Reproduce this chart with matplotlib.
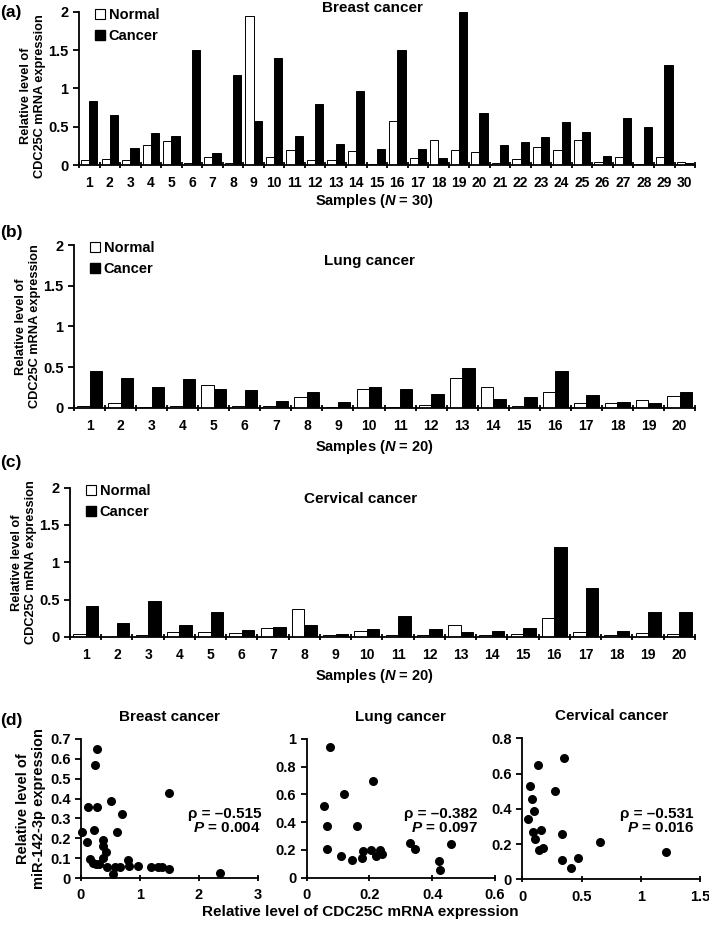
import matplotlib
matplotlib.use('Agg')
import matplotlib.pyplot as plt
from matplotlib.lines import Line2D
from matplotlib.ticker import MultipleLocator, FormatStrFormatter
import numpy as np

plt.rcParams['font.family'] = ['Liberation Sans', 'DejaVu Sans']
plt.rcParams['font.weight'] = 'bold'
plt.rcParams['axes.labelweight'] = 'bold'
plt.rcParams['axes.titleweight'] = 'bold'
plt.rcParams['mathtext.fontset'] = 'custom'
plt.rcParams['mathtext.it'] = 'Liberation Sans:italic:bold'
plt.rcParams['mathtext.rm'] = 'Liberation Sans:bold'

# (a) breast cancer, 30 samples
breast_normal = [0.065, 0.08, 0.06, 0.26, 0.31, 0.03, 0.11, 0.03, 1.94, 0.11,
                 0.20, 0.06, 0.06, 0.18, 0.01, 0.57, 0.09, 0.32, 0.20, 0.17,
                 0.02, 0.075, 0.24, 0.19, 0.33, 0.04, 0.10, 0.01, 0.11, 0.035]
breast_cancer = [0.83, 0.65, 0.22, 0.42, 0.38, 1.50, 0.16, 1.18, 0.58, 1.40,
                 0.38, 0.79, 0.27, 0.96, 0.21, 1.50, 0.21, 0.09, 2.00, 0.68,
                 0.26, 0.30, 0.37, 0.56, 0.43, 0.12, 0.61, 0.50, 1.31, 0.02]
# (b) lung cancer, 20 samples
lung_normal = [0.02, 0.06, 0.015, 0.02, 0.275, 0.02, 0.02, 0.13, 0.015, 0.23,
               0.01, 0.03, 0.36, 0.26, 0.02, 0.19, 0.055, 0.055, 0.09, 0.14]
lung_cancer = [0.45, 0.37, 0.25, 0.35, 0.23, 0.22, 0.08, 0.19, 0.07, 0.25,
               0.23, 0.17, 0.49, 0.11, 0.13, 0.45, 0.155, 0.067, 0.06, 0.19]
# (c) cervical cancer, 20 samples
cerv_normal = [0.035, 0.005, 0.025, 0.065, 0.06, 0.05, 0.115, 0.38, 0.03, 0.08,
               0.03, 0.02, 0.16, 0.03, 0.04, 0.25, 0.06, 0.025, 0.05, 0.04]
cerv_cancer = [0.42, 0.185, 0.48, 0.165, 0.34, 0.09, 0.14, 0.16, 0.045, 0.10,
               0.28, 0.10, 0.06, 0.08, 0.12, 1.21, 0.65, 0.08, 0.34, 0.33]

# (d) scatter: CDC25C (x) vs miR-142-3p (y)
breast_x = [0.28, 0.23, 1.50, 0.51, 0.12, 0.28, 0.69, 0.02, 0.22, 0.61,
            0.38, 0.10, 0.38, 0.42, 0.38, 0.15, 0.20, 0.26, 0.31, 0.44,
            0.55, 0.58, 0.66, 0.79, 0.82, 0.97, 1.19, 1.31, 1.38, 1.50, 2.35]
breast_y = [0.65, 0.57, 0.43, 0.39, 0.36, 0.36, 0.32, 0.23, 0.24, 0.23,
            0.19, 0.18, 0.16, 0.13, 0.10, 0.095, 0.075, 0.07, 0.07, 0.055,
            0.02, 0.055, 0.055, 0.09, 0.06, 0.06, 0.055, 0.055, 0.055, 0.045, 0.025]
lung_x = [0.073, 0.21, 0.12, 0.055, 0.064, 0.16, 0.066, 0.11, 0.145, 0.175,
          0.18, 0.205, 0.22, 0.235, 0.24, 0.33, 0.345, 0.42, 0.425, 0.46]
lung_y = [0.94, 0.70, 0.60, 0.52, 0.37, 0.37, 0.21, 0.16, 0.13, 0.14,
          0.19, 0.20, 0.16, 0.20, 0.17, 0.25, 0.21, 0.12, 0.055, 0.24]
cerv_x = [0.35, 0.13, 0.065, 0.28, 0.085, 0.10, 0.05, 0.09, 0.16, 0.335,
          0.105, 0.14, 0.175, 0.655, 1.21, 0.335, 0.47, 0.41]
cerv_y = [0.69, 0.65, 0.53, 0.50, 0.455, 0.385, 0.34, 0.27, 0.28, 0.255,
          0.23, 0.165, 0.18, 0.21, 0.155, 0.11, 0.12, 0.065]

fig = plt.figure(figsize=(7.09, 9.25), dpi=100)
lw = 1.3


def bar_panel(rect, normal, cancer, title, title_xy, xlab_y, letter, letter_y, label_y=0.5):
    ax = fig.add_axes(rect)
    n = len(normal)
    idx = np.arange(1, n + 1)
    ax.bar(idx - 0.2, normal, width=0.4, color='white', edgecolor='black', linewidth=0.7)
    ax.bar(idx + 0.2, cancer, width=0.4, color='black', edgecolor='black', linewidth=0.7)
    ax.set_xlim(0.5, n + 0.5)
    ax.set_ylim(0, 2)
    ax.yaxis.set_major_locator(MultipleLocator(0.5))
    ax.yaxis.set_major_formatter(FormatStrFormatter('%g'))
    ax.set_xticks(idx)
    ax.set_xticks(np.arange(0.5, n + 1, 1), minor=True)
    ax.tick_params(axis='x', which='major', length=0, labelsize=10, pad=8)
    ax.tick_params(axis='x', which='minor', direction='inout', length=5, width=lw)
    ax.tick_params(axis='y', direction='out', length=4, width=lw, labelsize=10.5)
    for s in ['top', 'right']:
        ax.spines[s].set_visible(False)
    for s in ['left', 'bottom']:
        ax.spines[s].set_linewidth(lw)
    ax.set_ylabel('Relative level of\nCDC25C mRNA expression', fontsize=9.2,
                  linespacing=1.25)
    # keep the label right next to the tick labels (about 33 px left of the spine)
    ax.yaxis.set_label_coords(-33 / (rect[2] * 709), label_y)
    handles = [Line2D([], [], marker='s', ls='', mfc='white', mec='black', ms=7, mew=0.8),
               Line2D([], [], marker='s', ls='', mfc='black', mec='black', ms=7)]
    ax.legend(handles, ['Normal', 'Cancer'], loc='upper left', bbox_to_anchor=(0.022, 1.025),
              frameon=False, fontsize=10.5, handletextpad=0.1, labelspacing=0.5,
              borderaxespad=0, borderpad=0, handlelength=1.0)
    fig.text(title_xy[0] / 709, 1 - title_xy[1] / 925, title, ha='center', va='center', fontsize=11)
    fig.text(374 / 709, 1 - xlab_y / 925, 'Samples ($\\mathit{N}$ = %d)' % n,
             ha='center', va='center', fontsize=10.5)
    fig.text(0, 1 - letter_y / 925, letter, ha='left', va='center', fontsize=12.5)
    return ax


bar_panel([0.1114, 0.8216, 0.869, 0.1657], breast_normal, breast_cancer,
          'Breast cancer', (372, 8), 201, '(a)', 12, label_y=0.45)
bar_panel([0.1044, 0.5592, 0.8759, 0.1759], lung_normal, lung_cancer,
          'Lung cancer', (369, 261), 447, '(b)', 233)
bar_panel([0.0987, 0.3114, 0.8815, 0.1614], cerv_normal, cerv_cancer,
          'Cervical cancer', (361, 499), 676, '(c)', 463)


def scatter_panel(rect, x, y, xlim, xstep, ylim, ystep, title, rho, p, txt_xy):
    ax = fig.add_axes(rect)
    ax.scatter(x, y, s=30, color='black', zorder=3, clip_on=False)
    ax.set_xlim(*xlim)
    ax.set_ylim(*ylim)
    ax.xaxis.set_major_locator(MultipleLocator(xstep))
    ax.yaxis.set_major_locator(MultipleLocator(ystep))
    ax.xaxis.set_major_formatter(FormatStrFormatter('%g'))
    ax.yaxis.set_major_formatter(FormatStrFormatter('%g'))
    ax.tick_params(axis='x', direction='inout', length=5, width=lw, labelsize=10.5, pad=5)
    ax.tick_params(axis='y', direction='out', length=4, width=lw, labelsize=10.5)
    for s in ['top', 'right']:
        ax.spines[s].set_visible(False)
    for s in ['left', 'bottom']:
        ax.spines[s].set_linewidth(lw)
    ax.set_title(title, fontsize=11, pad=13)
    fig.text(txt_xy[0] / 709, 1 - txt_xy[1] / 925,
             '\u03c1 = \u2013%s\n$\\mathit{P}$ = %s' % (rho, p),
             ha='right', va='center', fontsize=11, linespacing=1.05)
    return ax


ax1 = scatter_panel([0.1142, 0.0508, 0.2497, 0.1503], breast_x, breast_y, (0, 3), 1,
                    (0, 0.7), 0.1, 'Breast cancer', '0.515', '0.004', (261, 821))
ax1.set_ylabel('Relative level of\nmiR-142-3p expression', fontsize=10.5, labelpad=3,
               linespacing=1.2)
scatter_panel([0.4326, 0.0511, 0.2656, 0.150], lung_x, lung_y, (0, 0.6), 0.2,
              (0, 1), 0.2, 'Lung cancer', '0.382', '0.097', (478, 821))
scatter_panel([0.7367, 0.0494, 0.2506, 0.1524], cerv_x, cerv_y, (0, 1.5), 0.5,
              (0, 0.8), 0.2, 'Cervical cancer', '0.531', '0.016', (694, 821))

fig.text(0, 1 - 720 / 925, '(d)', ha='left', va='center', fontsize=12.5)
fig.text(360 / 709, 1 - 912 / 925, 'Relative level of CDC25C mRNA expression',
         ha='center', va='center', fontsize=11)

fig.savefig('out.png', dpi=100)
